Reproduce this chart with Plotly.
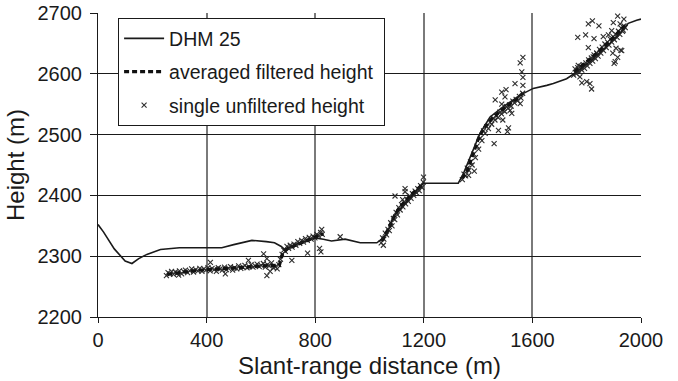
import plotly.graph_objects as go

# DHM 25 terrain profile
dhm_x = [0, 20, 60, 100, 125, 150, 180, 230, 300, 380, 456, 500, 567, 620, 650, 675, 690,
         720, 760, 800, 830, 860, 910, 966, 1027, 1045, 1064, 1088, 1125, 1150, 1174, 1199,
         1260, 1327, 1346, 1370, 1407, 1444, 1493, 1555, 1603, 1653, 1677, 1726, 1763, 1812,
         1874, 1923, 1953, 1984, 2000]
dhm_y = [2352, 2340, 2312, 2292, 2288, 2296, 2303, 2311, 2314, 2314, 2314, 2319, 2326, 2324,
         2322, 2316, 2310, 2318, 2324, 2330, 2328, 2325, 2328, 2322, 2322, 2328, 2337, 2365,
         2384, 2396, 2409, 2420, 2420, 2420, 2436, 2463, 2502, 2529, 2546, 2565, 2576, 2581,
         2584, 2592, 2603, 2620, 2645, 2667, 2683, 2688, 2690]

# averaged filtered height (segments separated by None)
avg_x = [255, 300, 350, 400, 450, 500, 550, 600, 650, 668, 680, 700, 750, 800, 830, None,
         1045, 1070, 1090, 1110, 1130, 1150, 1175, 1200, None,
         1340, 1360, 1380, 1400, 1420, 1450, 1480, 1510, 1540, 1565, None,
         1755, 1800, 1850, 1890, 1930, 1945]
avg_y = [2270, 2273, 2276, 2278, 2279, 2280, 2282, 2284, 2284, 2285, 2305, 2313, 2322, 2332, 2337, None,
         2325, 2345, 2365, 2380, 2390, 2400, 2410, 2420, None,
         2428, 2440, 2466, 2492, 2510, 2526, 2538, 2548, 2558, 2568, None,
         2603, 2620, 2639, 2656, 2675, 2680]

# single unfiltered heights
pts_x = [252, 258, 265, 271, 278, 285, 292, 300, 308, 315,
         322, 330, 338, 345, 352, 360, 368, 375, 383, 390,
         398, 405, 413, 420, 428, 436, 443, 450, 458, 466,
         473, 481, 488, 496, 503, 511, 518, 526, 534, 541,
         549, 556, 564, 571, 579, 586, 594, 601, 609, 616,
         624, 631, 639, 646, 654, 660, 666,
         672, 678, 684, 690, 696, 702, 708, 715, 722, 729,
         736, 743, 750, 757, 764, 771, 778, 785, 792, 799,
         806, 813, 820, 826,
         1043, 1048, 1053, 1058, 1063, 1068, 1073, 1078, 1083, 1088,
         1093, 1098, 1103, 1108, 1113, 1118, 1123, 1128, 1133, 1138,
         1143, 1148, 1153, 1158, 1163, 1168, 1173, 1178, 1183, 1188,
         1193, 1198,
         1342, 1348, 1354, 1360, 1366, 1372, 1378, 1384, 1390, 1396,
         1402, 1408, 1414, 1420, 1426, 1432, 1438, 1444, 1450, 1456,
         1462, 1468, 1474, 1480, 1486, 1492, 1498, 1504, 1510, 1516,
         1522, 1528, 1534, 1540, 1546, 1552, 1558, 1564,
         1752, 1757, 1762, 1767, 1772, 1777, 1782, 1787, 1792, 1797,
         1802, 1807, 1812, 1817, 1822, 1827, 1832, 1837, 1842, 1847,
         1852, 1857, 1862, 1867, 1872, 1877, 1882, 1887, 1892, 1897,
         1902, 1907, 1912, 1917, 1922, 1927, 1932, 1937, 1942,
         297, 414, 469, 554, 610, 622, 622, 634, 714, 772,
         816, 821, 824, 892, 1051, 1094, 1131, 1131, 1122, 1199,
         1386, 1365,
         1565, 1555, 1561, 1565, 1536, 1565, 1503, 1487, 1499, 1463,
         1487, 1512, 1508, 1475, 1459, 1491, 1524, 1555, 1518,
         1767, 1796, 1827, 1806, 1821, 1845, 1914, 1937, 1898, 1818,
         1800, 1782, 1806, 1837, 1905, 1914, 1925, 1896, 1769, 1775,
         1812, 1824, 1861, 1880, 1892, 1923, 1935, 1908, 1929, 1901]
pts_y = [2268, 2273, 2271, 2275, 2270, 2274, 2272, 2276, 2271, 2275,
         2277, 2273, 2276, 2279, 2274, 2278, 2276, 2280, 2275, 2279,
         2277, 2281, 2276, 2280, 2278, 2275, 2281, 2279, 2277, 2282,
         2278, 2280, 2283, 2277, 2281, 2279, 2284, 2280, 2282, 2285,
         2281, 2283, 2286, 2282, 2284, 2287, 2283, 2285, 2288, 2282,
         2286, 2284, 2289, 2281, 2283, 2279, 2286,
         2295, 2303, 2310, 2308, 2316, 2313, 2318, 2315, 2320, 2318,
         2324, 2321, 2326, 2323, 2329, 2326, 2331, 2328, 2333, 2330,
         2336, 2333, 2339, 2336,
         2322, 2330, 2328, 2338, 2335, 2344, 2342, 2355, 2350, 2362,
         2360, 2372, 2368, 2380, 2376, 2385, 2381, 2389, 2386, 2394,
         2390, 2399, 2395, 2403, 2400, 2407, 2404, 2411, 2408, 2416,
         2413, 2422,
         2426, 2435, 2432, 2445, 2441, 2455, 2450, 2468, 2462, 2481,
         2476, 2494, 2490, 2506, 2502, 2513, 2510, 2520, 2517, 2527,
         2524, 2531, 2528, 2537, 2534, 2540, 2538, 2546, 2543, 2549,
         2547, 2555, 2552, 2558, 2556, 2563, 2560, 2568,
         2598, 2608, 2600, 2610, 2603, 2612, 2606, 2615, 2609, 2618,
         2613, 2623, 2617, 2626, 2621, 2631, 2625, 2634, 2629, 2640,
         2634, 2644, 2638, 2649, 2643, 2652, 2647, 2657, 2652, 2661,
         2656, 2665, 2660, 2670, 2665, 2675, 2670, 2679, 2676,
         2269, 2290, 2271, 2293, 2304, 2296, 2268, 2275, 2293, 2305,
         2313, 2307, 2344, 2332, 2318, 2399, 2411, 2406, 2393, 2430,
         2440, 2433,
         2627, 2618, 2603, 2594, 2584, 2581, 2574, 2570, 2562, 2557,
         2550, 2511, 2505, 2507, 2485, 2524, 2535, 2551, 2540,
         2660, 2664, 2658, 2682, 2687, 2679, 2695, 2690, 2684, 2575,
         2587, 2585, 2643, 2634, 2620, 2627, 2639, 2634, 2614, 2595,
         2584, 2628, 2661, 2664, 2671, 2682, 2672, 2642, 2638, 2617]

x_ticks = [0, 400, 800, 1200, 1600, 2000]
y_ticks = [2200, 2300, 2400, 2500, 2600, 2700]

FONT = "Liberation Sans, Arial, sans-serif"
INK = "#1a1a1a"

fig = go.Figure()
fig.add_trace(go.Scatter(x=pts_x, y=pts_y, mode="markers", name="single unfiltered height",
                         marker=dict(symbol="x-thin", size=5, line=dict(color="#2e2e2e", width=1.1)),
                         legendgroup="c", legendrank=3))
fig.add_trace(go.Scatter(x=avg_x, y=avg_y, mode="lines", name="averaged filtered height\u00a0",
                         line=dict(color="#111111", width=3.2, dash="5px,3px"),
                         connectgaps=False, legendgroup="b", legendrank=2))
fig.add_trace(go.Scatter(x=dhm_x, y=dhm_y, mode="lines", name="DHM 25",
                         line=dict(color=INK, width=1.6), legendgroup="a", legendrank=1))

fig.update_layout(
    width=678, height=381,
    margin=dict(l=98, r=37, t=13, b=64),
    paper_bgcolor="white", plot_bgcolor="white",
    font=dict(family=FONT, size=20, color=INK),
    showlegend=True,
    legend=dict(x=0.037, y=0.983, xanchor="left", yanchor="top",
                bgcolor="white", bordercolor=INK, borderwidth=1,
                font=dict(size=19.5), tracegroupgap=5, traceorder="grouped",
                itemwidth=40),
    xaxis=dict(range=[0, 2000], tickvals=x_ticks, ticktext=[str(v) for v in x_ticks],
               showgrid=True, gridcolor="#7a7a7a", gridwidth=1.5,
               showline=True, linecolor=INK, linewidth=1.2,
               ticks="outside", ticklen=5, tickcolor=INK,
               zeroline=False, automargin=False,
               title=dict(text="Slant-range distance (m)", standoff=7)),
    yaxis=dict(range=[2200, 2700], tickvals=y_ticks, ticktext=[str(v) for v in y_ticks],
               showgrid=True, gridcolor=INK, gridwidth=1,
               showline=True, linecolor=INK, linewidth=1.2,
               ticks="outside", ticklen=7, tickcolor=INK, ticklabelstandoff=4,
               zeroline=False, automargin=False,
               title=dict(text="Height (m)", standoff=6)),
)

fig.write_html("out.html", config={"displayModeBar": False},
               post_script="document.body.style.margin='0';")
